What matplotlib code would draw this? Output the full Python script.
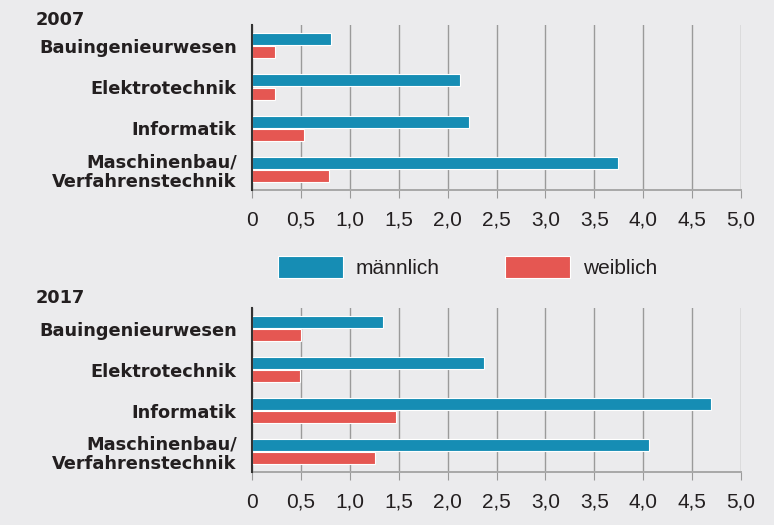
import numpy as np
import matplotlib.pyplot as plt

plt.rcParams['font.family'] = ['Liberation Sans', 'DejaVu Sans']

categories = ['Bauingenieurwesen', 'Elektrotechnik', 'Informatik', 'Maschinenbau/\nVerfahrenstechnik']
men_2007 = [0.81, 2.13, 2.22, 3.74]
women_2007 = [0.24, 0.23, 0.53, 0.79]
men_2017 = [1.34, 2.37, 4.69, 4.06]
women_2017 = [0.50, 0.49, 1.47, 1.26]
ticks = np.arange(0, 5.01, 0.5)
tick_labels = ['0'] + [f'{t:.1f}'.replace('.', ',') for t in ticks[1:]]

bg = '#ebebed'
blue = '#168db4'
red = '#e55752'
txt = '#231f20'
bold_font = 'DejaVu Sans'

fig = plt.figure(figsize=(7.74, 5.25), dpi=100, facecolor=bg)


def panel(rect, men, women, year, year_y):
    ax = fig.add_axes(rect, facecolor=bg)
    y = np.arange(len(categories))
    ax.barh(y - 0.16, men, height=0.29, color=blue, edgecolor='white', linewidth=0.8, zorder=3)
    ax.barh(y + 0.16, women, height=0.29, color=red, edgecolor='white', linewidth=0.8, zorder=3)
    ax.set_xlim(0, 5)
    ax.set_ylim(3.5, -0.5)
    ax.set_xticks(ticks)
    ax.set_xticklabels(tick_labels, fontsize=15, color=txt)
    ax.set_yticks(y)
    ax.set_yticklabels(categories, fontsize=12.8, fontweight='bold', family=bold_font,
                       color=txt, ha='right', linespacing=1.12)
    ax.tick_params(axis='y', length=0, pad=11)
    ax.tick_params(axis='x', length=6, width=0.8, color='#999999', pad=9)
    ax.grid(axis='x', color='#9a9a9a', linewidth=1.0, zorder=0)
    for s in ['top', 'right']:
        ax.spines[s].set_visible(False)
    ax.spines['bottom'].set_color('#a8a8a8')
    ax.spines['bottom'].set_linewidth(1.4)
    ax.spines['left'].set_color('#333333')
    ax.spines['left'].set_linewidth(1.5)
    ax.spines['left'].set_zorder(4)
    fig.text(36 / 774, year_y, year, fontsize=12.8, fontweight='bold', family=bold_font,
             color=txt, va='center', ha='left')
    return ax


panel([0.3256, 0.638, 0.6318, 0.314], men_2007, women_2007, '2007', 1 - 20 / 525)
panel([0.3256, 0.101, 0.6318, 0.312], men_2017, women_2017, '2017', 1 - 298 / 525)

handles = [plt.Rectangle((0, 0), 1, 1, facecolor=blue, edgecolor='white', linewidth=0.8),
           plt.Rectangle((0, 0), 1, 1, facecolor=red, edgecolor='white', linewidth=0.8)]
leg = fig.legend(handles, ['männlich', 'weiblich'], loc='center', bbox_to_anchor=(0.604, 0.491),
                 ncol=2, frameon=False, fontsize=15, handlelength=3.12, handleheight=1.25,
                 handletextpad=0.62, columnspacing=3.12)
for t in leg.get_texts():
    t.set_color(txt)

fig.savefig('out.png', dpi=100, facecolor=bg)
